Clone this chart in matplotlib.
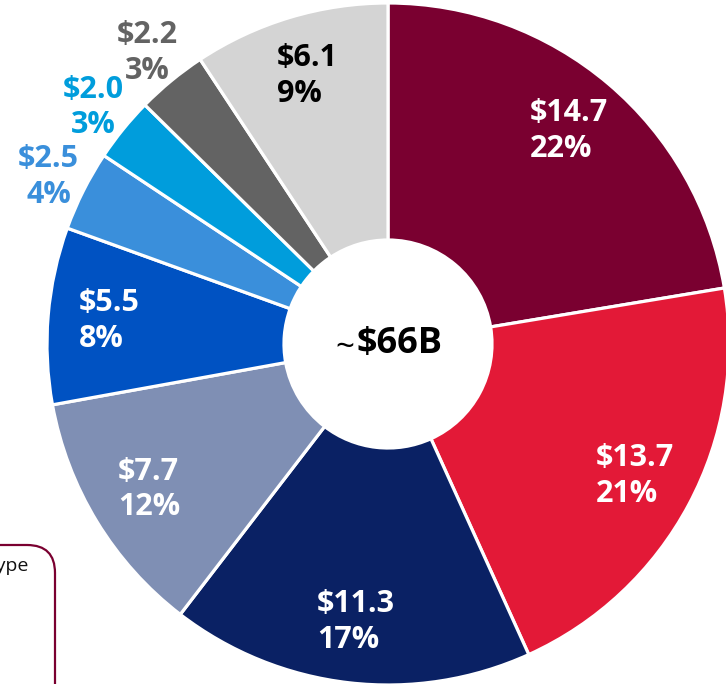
import numpy as np
import matplotlib
matplotlib.use("Agg")
import matplotlib.pyplot as plt
from matplotlib.patches import FancyBboxPatch

plt.rcParams['font.family'] = ['Open Sans', 'DejaVu Sans']
plt.rcParams['text.parse_math'] = False

# slices, clockwise from 12 o'clock
values = [14.7, 13.7, 11.3, 7.7, 5.5, 2.5, 2.0, 2.2, 6.1]
shares = ["22%", "21%", "17%", "12%", "8%", "4%", "3%", "3%", "9%"]
colors = ["#7a0030", "#e31937", "#0a2164", "#7f8fb4", "#0052c2",
          "#3a8fdb", "#009ddc", "#636363", "#d4d4d4"]
label_colors = ["white", "white", "white", "white", "white",
                "#3a8fdb", "#009ddc", "#636363", "black"]
outside = [False, False, False, False, False, True, True, True, False]
total_label = "$66B"

W, H = 726, 684
cx, cy, R = 388, 344, 341  # pixels

fig = plt.figure(figsize=(W / 100, H / 100), dpi=100)
ax = fig.add_axes([(cx - R) / W, 1 - (cy + R) / H, 2 * R / W, 2 * R / H])

wedges, _ = ax.pie(values, colors=colors, startangle=90, counterclock=False,
                   radius=1.0,
                   wedgeprops=dict(width=0.695, edgecolor="white", linewidth=2.3))
ax.set_xlim(-1, 1)
ax.set_ylim(-1, 1)
ax.axis("off")

for w, v, s, c, out in zip(wedges, values, shares, label_colors, outside):
    ang = np.deg2rad((w.theta1 + w.theta2) / 2)
    r = 1.125 if out else 0.82
    ax.text(r * np.cos(ang) + (0.01 if out else 0), r * np.sin(ang) - (0.015 if out else 0),
            f"${v:.1f}\n{s}",
            ha="center", va="center", multialignment="center" if out else "left",
            fontsize=22, fontweight="bold", color=c, linespacing=1.25)

ax.text(0.035, 0.0, total_label, ha="center", va="center",
        fontsize=26, fontweight="bold", color="black")
ax.text(-0.1, -0.012, "~", ha="right", va="center", fontsize=24, color="black")

# partially visible side box
box = FancyBboxPatch((-2.0, -1.0), 2.55, 2.39,
                     boxstyle="round,pad=0,rounding_size=0.28",
                     transform=fig.dpi_scale_trans, facecolor="white",
                     edgecolor="#7a0030", linewidth=1.6)
fig.add_artist(box)
fig.text(29 / W, 1 - 566 / H, "Type", ha="right", va="center",
         fontsize=14, color="#111111")

fig.savefig("out.png", dpi=100)
